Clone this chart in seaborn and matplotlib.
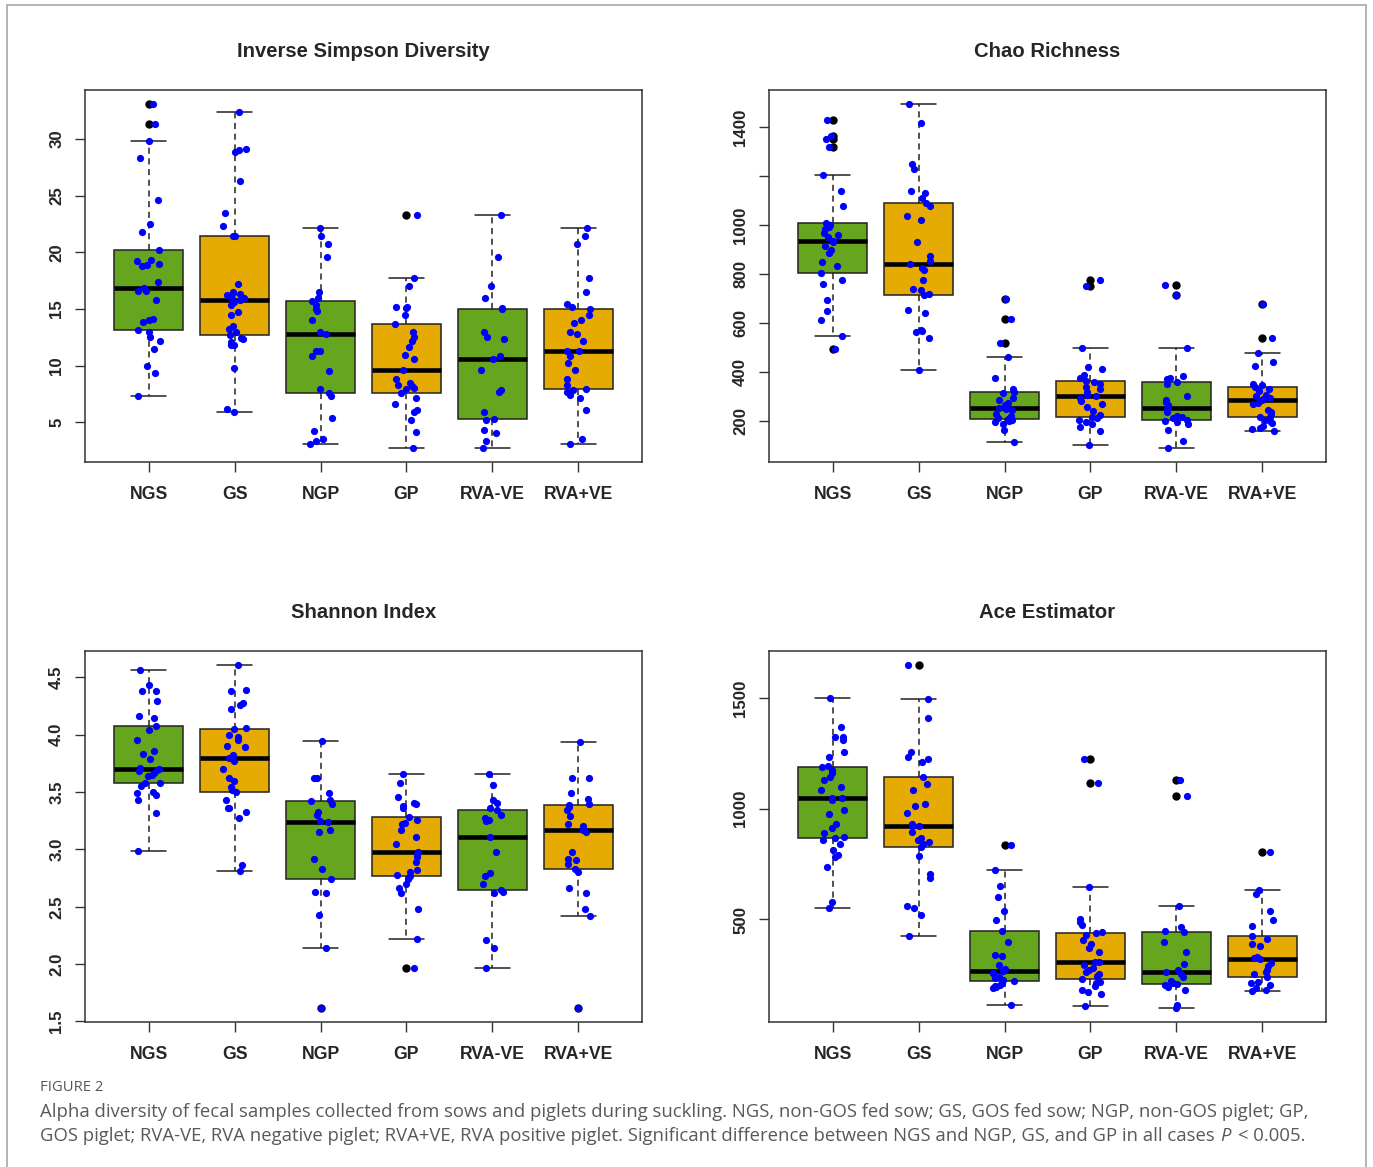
import matplotlib
matplotlib.use("Agg")
import matplotlib.pyplot as plt
import numpy as np
import pandas as pd
import seaborn as sns
from matplotlib.patches import Rectangle

GROUPS = ["NGS", "GS", "NGP", "GP", "RVA-VE", "RVA+VE"]
BOX_COLORS = ["#66A61E", "#E6AB02", "#66A61E", "#E6AB02", "#66A61E", "#E6AB02"]

# Inverse Simpson diversity
is_ngs = [7.35, 9.3, 10.0, 11.5, 12.2, 12.5, 13.0, 13.15, 13.8, 14.0, 14.1, 15.8, 16.6, 16.6, 16.85,
          17.35, 18.8, 18.9, 19.0, 19.2, 19.3, 20.2, 21.8, 22.5, 24.6, 28.3, 29.8, 31.3, 33.1]
is_gs = [5.9, 6.2, 9.75, 11.85, 11.85, 12.1, 12.3, 12.45, 12.7, 13.0, 13.2, 13.45, 14.5, 14.75, 15.35,
         15.6, 15.75, 15.9, 16.0, 16.2, 16.3, 16.4, 16.5, 17.2, 21.4, 21.45, 22.3, 23.45, 26.3, 28.8,
         29.0, 29.15, 32.35]
is_ngp = [3.05, 3.3, 3.5, 4.25, 5.4, 7.35, 7.6, 7.9, 9.55, 10.8, 11.3, 11.3, 12.8, 12.95, 14.05, 14.8,
          14.95, 15.35, 15.7, 15.95, 16.5, 19.6, 20.7, 21.45, 22.15]
is_gp = [2.7, 4.1, 5.2, 5.9, 6.1, 6.6, 7.15, 7.6, 7.9, 8.0, 8.2, 8.25, 8.5, 8.8, 9.6, 10.6, 10.9, 11.6,
         12.2, 12.5, 13.0, 13.7, 14.5, 15.1, 15.15, 15.2, 17.05, 17.7, 23.25]
is_rvan = [2.7, 3.35, 4.05, 4.3, 5.2, 5.3, 5.9, 7.7, 7.8, 9.6, 10.6, 10.8, 12.3, 12.5, 12.95, 14.95, 15.1,
           15.95, 17.0, 19.6, 23.25]
is_rvap = [3.05, 3.5, 6.1, 7.15, 7.4, 7.65, 7.8, 7.9, 8.25, 8.8, 9.6, 10.2, 10.8, 11.25, 11.3, 12.2, 12.8,
           13.0, 13.75, 14.05, 14.5, 14.95, 15.2, 15.4, 16.5, 17.7, 20.7, 21.45, 22.15]

# Chao richness
ch_ngs = [494, 546, 611, 649, 695, 760, 777, 805, 831, 848, 886, 899, 915, 929, 935, 951, 960, 967, 984,
          990, 998, 1008, 1078, 1140, 1203, 1317, 1351, 1365, 1427]
ch_gs = [408, 539, 563, 566, 570, 639, 654, 714, 716, 736, 739, 776, 818, 823, 842, 852, 872, 929, 1022,
         1037, 1078, 1091, 1110, 1129, 1137, 1230, 1250, 1416, 1495]
ch_ngp = [114, 161, 185, 195, 200, 205, 208, 212, 219, 229, 246, 250, 254, 264, 273, 284, 294, 312, 318,
          331, 373, 459, 516, 616, 698]
ch_gp = [102, 158, 176, 185, 195, 205, 212, 214, 222, 240, 255, 267, 280, 294, 303, 307, 318, 328, 340,
         352, 358, 363, 376, 389, 410, 420, 497, 752, 777]
ch_rvan = [88, 117, 161, 185, 195, 200, 205, 210, 214, 219, 235, 249, 252, 265, 276, 287, 301, 352, 359,
           369, 376, 385, 497, 712, 756]
ch_rvap = [159, 165, 170, 178, 190, 200, 205, 214, 216, 226, 237, 246, 267, 273, 286, 290, 295, 301, 307,
           321, 330, 339, 348, 352, 423, 439, 475, 539, 679]

# Shannon index
sh_ngs = [2.99, 3.32, 3.43, 3.47, 3.49, 3.50, 3.55, 3.58, 3.58, 3.64, 3.65, 3.67, 3.68, 3.69, 3.70, 3.71,
          3.79, 3.83, 3.86, 3.95, 4.04, 4.08, 4.15, 4.16, 4.29, 4.38, 4.38, 4.43, 4.56]
sh_gs = [2.81, 2.86, 3.27, 3.33, 3.36, 3.36, 3.43, 3.50, 3.52, 3.54, 3.60, 3.62, 3.70, 3.77, 3.80, 3.82,
         3.89, 3.90, 3.95, 3.98, 4.00, 4.05, 4.06, 4.22, 4.26, 4.28, 4.38, 4.39, 4.61]
sh_ngp = [1.615, 2.14, 2.43, 2.62, 2.63, 2.74, 2.83, 2.915, 3.15, 3.17, 3.24, 3.25, 3.30, 3.33, 3.40, 3.42,
          3.43, 3.49, 3.62, 3.62, 3.945]
sh_gp = [1.97, 2.22, 2.48, 2.62, 2.66, 2.70, 2.74, 2.77, 2.78, 2.80, 2.82, 2.89, 2.93, 2.96, 2.98, 3.05,
         3.11, 3.17, 3.22, 3.23, 3.26, 3.28, 3.36, 3.375, 3.40, 3.405, 3.46, 3.58, 3.655]
sh_rvan = [1.97, 2.14, 2.21, 2.62, 2.63, 2.65, 2.70, 2.77, 2.79, 2.98, 3.11, 3.245, 3.255, 3.27, 3.30, 3.34,
           3.36, 3.405, 3.43, 3.56, 3.655]
sh_rvap = [1.615, 2.42, 2.48, 2.62, 2.66, 2.80, 2.83, 2.87, 2.91, 2.92, 2.98, 3.15, 3.17, 3.20, 3.22, 3.29,
           3.34, 3.37, 3.39, 3.40, 3.44, 3.49, 3.62, 3.62, 3.94]

# ACE estimator
ac_ngs = [553, 580, 737, 782, 793, 815, 840, 857, 869, 872, 890, 913, 930, 975, 992, 1041, 1047, 1050,
          1086, 1100, 1128, 1143, 1160, 1173, 1188, 1191, 1233, 1258, 1311, 1323, 1326, 1369, 1498]
ac_gs = [425, 520, 553, 560, 689, 703, 785, 829, 839, 850, 860, 869, 895, 922, 923, 932, 980, 1012, 1023,
         1086, 1113, 1144, 1210, 1225, 1233, 1257, 1408, 1495, 1650]
ac_ngp = [113, 189, 195, 201, 205, 212, 222, 227, 235, 242, 257, 257, 266, 276, 294, 335, 339, 399, 449,
          497, 539, 602, 653, 722, 838]
ac_gp = [111, 164, 174, 182, 200, 212, 219, 231, 245, 255, 264, 272, 279, 295, 306, 309, 354, 370, 389,
         407, 430, 440, 442, 475, 490, 500, 647, 1116, 1225]
ac_rvan = [99, 113, 182, 197, 205, 210, 212, 224, 240, 255, 261, 272, 299, 354, 396, 444, 449, 464, 562,
           1056, 1128]
ac_rvap = [179, 182, 189, 204, 212, 219, 242, 252, 264, 272, 290, 305, 320, 324, 332, 380, 389, 410, 425,
           470, 497, 539, 617, 631, 803]

is_ticks = [5, 10, 15, 20, 25, 30]
is_labels = ["5", "10", "15", "20", "25", "30"]
ch_ticks = [200, 400, 600, 800, 1000, 1200, 1400]
ch_labels = ["200", "400", "600", "800", "1000", "", "1400"]
sh_ticks = [1.5, 2.0, 2.5, 3.0, 3.5, 4.0, 4.5]
sh_labels = ["1.5", "2.0", "2.5", "3.0", "3.5", "4.0", "4.5"]
ac_ticks = [500, 1000, 1500]
ac_labels = ["500", "1000", "1500"]

CAPTION_1 = ("Alpha diversity of fecal samples collected from sows and piglets during suckling. "
             "NGS, non-GOS fed sow; GS, GOS fed sow; NGP, non-GOS piglet; GP,")
CAPTION_2 = ("GOS piglet; RVA-VE, RVA negative piglet; RVA+VE, RVA positive piglet. "
             "Significant difference between NGS and NGP, GS, and GP in all cases")

W, H = 1373, 1167


def make_frame(groups_values):
    rows = []
    for g, vals in zip(GROUPS, groups_values):
        rows += [(g, v) for v in vals]
    return pd.DataFrame(rows, columns=["group", "value"])


def draw_panel(ax, groups_values, title, ticks, labels):
    df = make_frame(groups_values)
    sns.boxplot(ax=ax, data=df, x="group", y="value", hue="group", order=GROUPS, hue_order=GROUPS,
                palette=dict(zip(GROUPS, BOX_COLORS)), saturation=1, width=0.8, whis=1.5,
                linecolor="#222222", linewidth=1.1, legend=False,
                medianprops=dict(color="black", linewidth=3.3),
                whiskerprops=dict(linestyle=(0, (4, 3))),
                flierprops=dict(marker="o", markerfacecolor="black", markeredgecolor="black",
                                markersize=5))
    sns.stripplot(ax=ax, data=df, x="group", y="value", order=GROUPS, color="blue", size=5.2,
                  jitter=0.14, linewidth=0, zorder=3)

    allv = np.concatenate([np.asarray(v, dtype=float) for v in groups_values])
    pad = 0.04 * (allv.max() - allv.min())
    ax.set_ylim(allv.min() - pad, allv.max() + pad)
    ax.set_xlim(-0.74, 5.74)
    ax.set_yticks(ticks)
    ax.set_yticklabels(labels, rotation=90, va="center", fontweight="bold", fontsize=12.2)
    ax.set_xticks(range(len(GROUPS)))
    ax.set_xticklabels(GROUPS, fontweight="bold", fontsize=12.7)
    ax.tick_params(axis="both", length=7, width=1, color="#333333", direction="out")
    ax.tick_params(axis="y", pad=8)
    ax.tick_params(axis="x", pad=10)
    ax.set_xlabel("")
    ax.set_ylabel("")
    ax.set_title(title, fontweight="bold", fontsize=14.6, pad=24)
    for s in ax.spines.values():
        s.set_visible(True)
        s.set_color("#333333")
        s.set_linewidth(1.1)


def px_axes(fig, left, top, right, bottom):
    return fig.add_axes([left / W, 1 - bottom / H, (right - left) / W, (bottom - top) / H])


np.random.seed(7)
sns.set_style("ticks")
plt.rcParams["font.family"] = ["Liberation Sans", "DejaVu Sans"]

fig = plt.figure(figsize=(W / 100, H / 100), dpi=100)

ax1 = px_axes(fig, 85, 90, 642, 462)
draw_panel(ax1, [is_ngs, is_gs, is_ngp, is_gp, is_rvan, is_rvap], "Inverse Simpson Diversity",
           is_ticks, is_labels)
ax2 = px_axes(fig, 769, 90, 1326, 462)
draw_panel(ax2, [ch_ngs, ch_gs, ch_ngp, ch_gp, ch_rvan, ch_rvap], "Chao Richness", ch_ticks, ch_labels)
ax3 = px_axes(fig, 85, 651, 642, 1022)
draw_panel(ax3, [sh_ngs, sh_gs, sh_ngp, sh_gp, sh_rvan, sh_rvap], "Shannon Index", sh_ticks, sh_labels)
ax4 = px_axes(fig, 769, 651, 1326, 1022)
draw_panel(ax4, [ac_ngs, ac_gs, ac_ngp, ac_gp, ac_rvan, ac_rvap], "Ace Estimator", ac_ticks, ac_labels)

# outer frame of the figure panel
fig.patches.append(Rectangle((7 / W, -0.02), (1366 - 7) / W, 1.02 - 5 / H, transform=fig.transFigure,
                             fill=False, edgecolor="#a8a8a8", linewidth=1.2))

# caption
cap_font = ["Open Sans", "DejaVu Sans"]
cap_color = "#595959"
fig.text(40 / W, 1 - 1091 / H, "FIGURE 2", fontsize=10.6, color="#555555", family=cap_font,
         va="baseline")
t1 = fig.text(40 / W, 1 - 1117 / H, CAPTION_1, fontsize=11.5, color=cap_color, family=cap_font,
              va="baseline")
renderer = fig.canvas.get_renderer()
w1 = t1.get_window_extent(renderer).width
cap_size = 11.5 * (1308 - 40) / w1
t1.set_fontsize(cap_size)
t2 = fig.text(40 / W, 1 - 1141 / H, CAPTION_2, fontsize=cap_size, color=cap_color, family=cap_font,
              va="baseline")
space = cap_size * 100 / 72 * 0.27
x = 40 + t2.get_window_extent(renderer).width + space
tp = fig.text(x / W, 1 - 1141 / H, "P", fontsize=cap_size, color=cap_color, family=cap_font,
              style="italic", va="baseline")
x += tp.get_window_extent(renderer).width + space * 1.6
fig.text(x / W, 1 - 1141 / H, "< 0.005.", fontsize=cap_size, color=cap_color, family=cap_font,
         va="baseline")

plt.savefig("out.png", dpi=100)
